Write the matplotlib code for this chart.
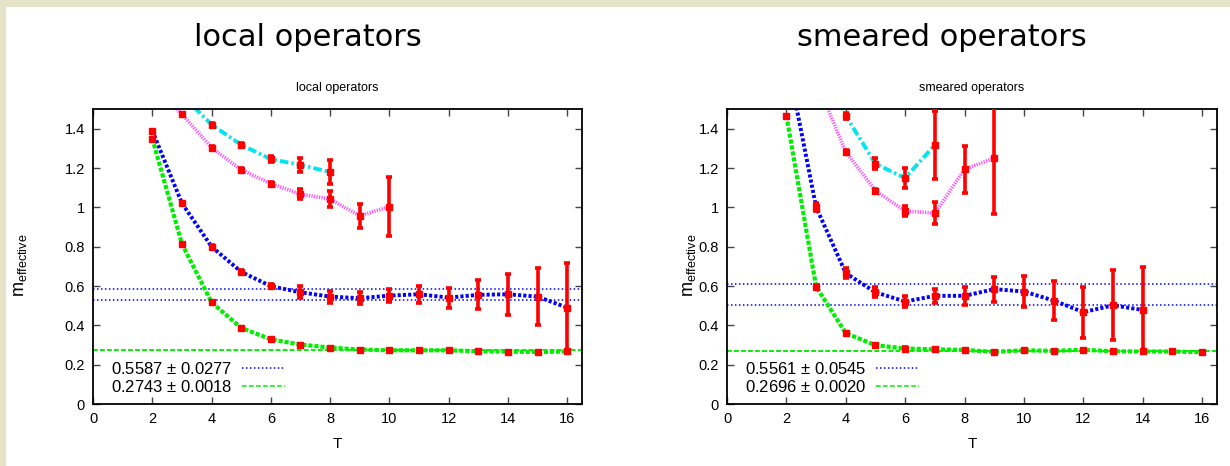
import matplotlib
matplotlib.use('Agg')
import matplotlib.pyplot as plt
from matplotlib.patches import Rectangle

plt.rcParams['font.family'] = ['Liberation Sans', 'DejaVu Sans']
plt.rcParams['mathtext.default'] = 'regular'

# ---- data: local operators ----
T_local = [2, 3, 4, 5, 6, 7, 8, 9, 10, 11, 12, 13, 14, 15, 16]
blue_local = [1.39, 1.021, 0.80, 0.672, 0.599, 0.568, 0.546, 0.538, 0.551, 0.558, 0.541, 0.555, 0.558, 0.546, 0.49]
blue_local_err = [0.005, 0.008, 0.008, 0.008, 0.01, 0.03, 0.03, 0.03, 0.034, 0.043, 0.051, 0.074, 0.104, 0.145, 0.226]
green_local = [1.35, 0.814, 0.517, 0.387, 0.329, 0.302, 0.287, 0.277, 0.273, 0.273, 0.273, 0.268, 0.266, 0.264, 0.267]
green_local_err = [0.005] * 15
T_cyan_local = [3, 4, 5, 6, 7, 8]
cyan_local = [1.57, 1.421, 1.318, 1.245, 1.216, 1.179]
cyan_local_err = [0.01, 0.008, 0.008, 0.015, 0.037, 0.06]
T_mag_local = [2, 3, 4, 5, 6, 7, 8, 9, 10]
mag_local = [1.63, 1.474, 1.304, 1.191, 1.121, 1.067, 1.042, 0.957, 1.004]
mag_local_err = [0.01, 0.008, 0.008, 0.008, 0.01, 0.025, 0.042, 0.062, 0.148]
fit_local = [(0.5587, 0.0277), (0.2743, 0.0018)]

# ---- data: smeared operators ----
T_green_sm = [2, 3, 4, 5, 6, 7, 8, 9, 10, 11, 12, 13, 14, 15, 16]
green_sm = [1.466, 0.597, 0.36, 0.299, 0.282, 0.278, 0.275, 0.265, 0.273, 0.27, 0.276, 0.268, 0.267, 0.267, 0.263]
green_sm_err = [0.006] * 15
T_blue_sm = [2, 3, 4, 5, 6, 7, 8, 9, 10, 11, 12, 13, 14]
blue_sm = [1.77, 1.001, 0.665, 0.568, 0.521, 0.55, 0.55, 0.584, 0.572, 0.526, 0.467, 0.502, 0.478]
blue_sm_err = [0.02, 0.02, 0.024, 0.025, 0.028, 0.034, 0.046, 0.064, 0.079, 0.1, 0.129, 0.178, 0.22]
T_cyan_sm = [3, 4, 5, 6, 7]
cyan_sm = [1.89, 1.466, 1.221, 1.149, 1.318]
cyan_sm_err = [0.02, 0.015, 0.028, 0.051, 0.174]
T_mag_sm = [3, 4, 5, 6, 7, 8, 9]
mag_sm = [1.645, 1.282, 1.084, 0.982, 0.97, 1.194, 1.25]
mag_sm_err = [0.02, 0.01, 0.01, 0.024, 0.057, 0.12, 0.284]
fit_smeared = [(0.5561, 0.0545), (0.2696, 0.0020)]

W, H = 1230, 466
fig = plt.figure(figsize=(W / 100, H / 100), dpi=100, facecolor='#e6e4c8')
fig.patches.append(Rectangle((6 / W, 0), 1, 1 - 7 / H, transform=fig.transFigure,
                             facecolor='white', edgecolor='none', zorder=-10))


def make_axes(x0, x1):
    return fig.add_axes([x0 / W, (H - 404) / H, (x1 - x0) / W, (404 - 109) / H])


def draw_panel(ax, series, fits, title, ylab_x):
    styles = {
        'blue': dict(color='#0000ff', lw=2.8, dashes=(0.8, 0.55)),
        'green': dict(color='#00ee00', lw=3.0, dashes=(1.0, 0.45)),
        'cyan': dict(color='#00e5ee', lw=2.8, dashes=(2.2, 0.8, 0.6, 0.8)),
        'mag': dict(color='#ff55ff', lw=2.6, dashes=(0.35, 0.35)),
    }
    for name, T, v, e in series:
        ax.plot(T, v, zorder=2, **styles[name])
        ax.errorbar(T, v, yerr=e, fmt='s', color='#ff0000', ms=5, elinewidth=2.6,
                    capsize=2.5, capthick=2.6, zorder=3)

    # fit bands
    (mb, eb), (mg, eg) = fits
    ax.axhline(mb + eb, color='#0000ff', lw=1.1, dashes=(1, 1.6),
               label=f'{mb:.4f} $\\pm$ {eb:.4f}', zorder=1)
    ax.axhline(mb - eb, color='#0000ff', lw=1.1, dashes=(1, 1.6), zorder=1)
    ax.axhline(mg + eg, color='#00ee00', lw=1.1, dashes=(3, 1.6),
               label=f'{mg:.4f} $\\pm$ {eg:.4f}', zorder=1)
    ax.axhline(mg - eg, color='#00ee00', lw=1.1, dashes=(3, 1.6), zorder=1)

    ax.set_xlim(0, 16.5)
    ax.set_ylim(0, 1.5)
    ax.set_xticks(range(0, 17, 2))
    ax.set_yticks([0, 0.2, 0.4, 0.6, 0.8, 1.0, 1.2, 1.4])
    ax.set_yticklabels(['0', '0.2', '0.4', '0.6', '0.8', '1', '1.2', '1.4'])
    ax.tick_params(direction='in', length=5, width=1, top=True, right=True,
                   labelsize=10.5, color='#444444', pad=6)
    for s in ax.spines.values():
        s.set_linewidth(1.3)

    ax.set_xlabel('T', fontsize=11)
    ax.xaxis.set_label_coords(0.5, -0.112)
    ax.set_ylabel('m$_{effective}$', fontsize=13)
    ax.yaxis.set_label_coords(ylab_x, 0.47)
    ax.set_title(title, fontsize=9, pad=13)

    ax.legend(loc='lower left', bbox_to_anchor=(0.012, -0.01), frameon=False,
              markerfirst=False, fontsize=12, handlelength=2.6,
              handletextpad=0.6, labelspacing=0.15, borderaxespad=0.3)


ax1 = make_axes(93, 582)
draw_panel(ax1,
           [('mag', T_mag_local, mag_local, mag_local_err),
            ('cyan', T_cyan_local, cyan_local, cyan_local_err),
            ('blue', T_local, blue_local, blue_local_err),
            ('green', T_local, green_local, green_local_err)],
           fit_local, 'local operators', -0.131)

ax2 = make_axes(727, 1217)
draw_panel(ax2,
           [('mag', T_mag_sm, mag_sm, mag_sm_err),
            ('cyan', T_cyan_sm, cyan_sm, cyan_sm_err),
            ('blue', T_blue_sm, blue_sm, blue_sm_err),
            ('green', T_green_sm, green_sm, green_sm_err)],
           fit_smeared, 'smeared operators', -0.059)

fig.text(308 / W, 1 - 38 / H, 'local operators', fontsize=22,
         family=['DejaVu Sans'], ha='center', va='center')
fig.text(942 / W, 1 - 38 / H, 'smeared operators', fontsize=22,
         family=['DejaVu Sans'], ha='center', va='center')

fig.savefig('out.png', dpi=100, facecolor=fig.get_facecolor())
